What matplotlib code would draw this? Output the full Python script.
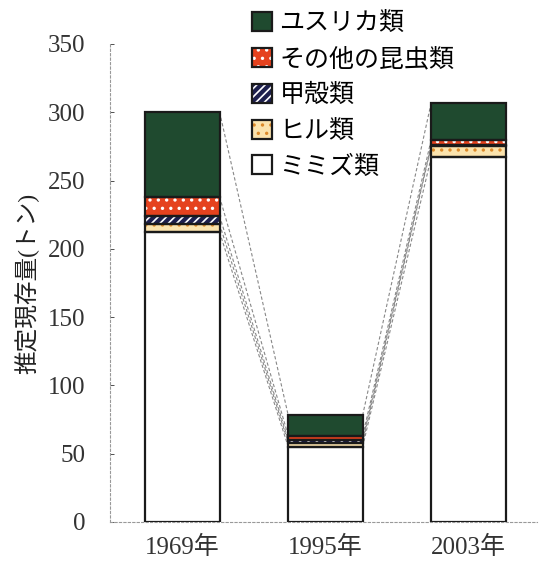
"""Stacked biomass bars (1969 / 1995 / 2003) with series lines."""

import numpy as np
import matplotlib
matplotlib.use("Agg")
import matplotlib.pyplot as plt
from matplotlib.patches import Patch
from matplotlib.legend_handler import HandlerTuple

plt.rcParams["font.family"] = ["Liberation Serif", "Noto Sans CJK JP"]
plt.rcParams["hatch.linewidth"] = 1.2

years = ["1969年", "1995年", "2003年"]
# bottom -> top
groups = ["ミミズ類", "ヒル類", "甲殻類", "その他の昆虫類", "ユスリカ類"]
mimizu = [212, 55, 267]
hiru = [6, 3, 8]
koukaku = [6, 2, 1]
konchu = [14, 3, 4]
yusurika = [62, 15, 27]
values = [mimizu, hiru, koukaku, konchu, yusurika]

# face colour, hatch, hatch colour
styles = [
    ("white", None, "black"),
    ("#fbe3ad", "..", "#dd8a2a"),
    ("#1d1f4d", "////", "white"),
    ("#e5421e", "..", "white"),
    ("#1f4a2f", None, "#1f4a2f"),
]

fig = plt.figure(figsize=(5.42, 5.69), dpi=100)
ax = fig.add_axes([110 / 542, 47 / 569, 427 / 542, 478 / 569])

x = np.arange(len(years))
width = 0.52
bottom = np.zeros(len(years))
tops = []
handles = []
for vals, (fc, hatch, hc) in zip(values, styles):
    vals = np.array(vals, dtype=float)
    ax.bar(x, vals, width, bottom=bottom, color=fc, edgecolor=hc,
           hatch=hatch, linewidth=0, zorder=2)
    ax.bar(x, vals, width, bottom=bottom, facecolor="none",
           edgecolor="#1a1a1a", linewidth=1.6, zorder=3)
    bottom = bottom + vals
    tops.append(bottom.copy())
    handles.append((Patch(facecolor=fc, edgecolor=hc, hatch=hatch, linewidth=0),
                    Patch(facecolor="none", edgecolor="#1a1a1a", linewidth=1.6)))

# series lines between bars
for t in tops:
    for i in range(len(years) - 1):
        ax.plot([x[i] + width / 2, x[i + 1] - width / 2], [t[i], t[i + 1]],
                color="#888888", lw=0.8, ls=(0, (3, 2)), zorder=1)

ax.set_xlim(-0.507, 2.48)
ax.set_ylim(0, 350)
ax.set_yticks(np.arange(0, 351, 50))
ax.set_xticks(x)
ax.set_xticklabels(years)
ax.tick_params(axis="both", labelsize=18, colors="#333333", direction="in",
               length=3, width=0.6)
ax.tick_params(axis="x", length=0, pad=10)
ax.tick_params(axis="y", pad=18)
for s in ["top", "right"]:
    ax.spines[s].set_visible(False)
for s in ["left", "bottom"]:
    ax.spines[s].set_color("#999999")
    ax.spines[s].set_linestyle((0, (2, 2)))
    ax.spines[s].set_linewidth(0.8)

ax.set_ylabel("推定現存量(トン)", fontsize=17, color="#222222", labelpad=6)

leg_handles = handles[::-1]
leg_labels = groups[::-1]
fig.legend(leg_handles, leg_labels, loc="upper left",
           bbox_to_anchor=(242 / 542, 1 - 2 / 569), frameon=False,
           fontsize=18, handlelength=0.8, handleheight=0.8, handletextpad=0.3,
           labelspacing=0.5, borderaxespad=0,
           handler_map={tuple: HandlerTuple(ndivide=1, pad=0)})

fig.savefig("out.png", dpi=100)
